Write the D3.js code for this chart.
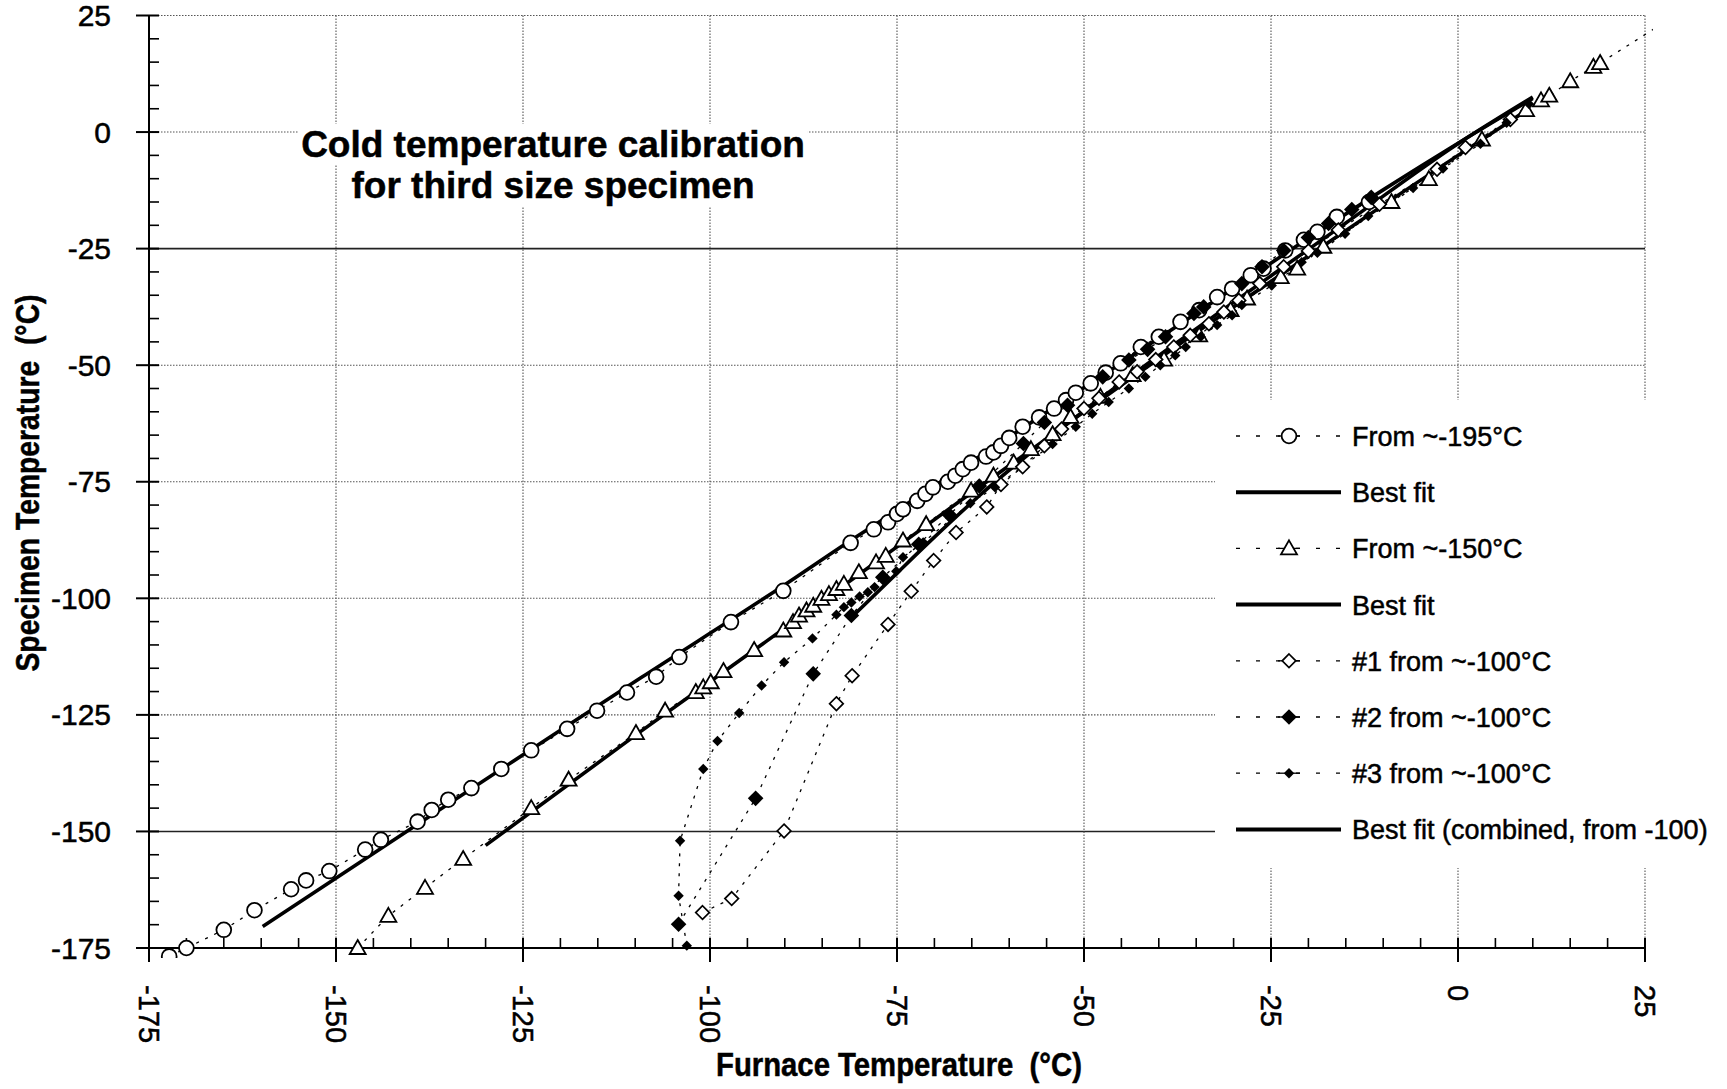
<!DOCTYPE html>
<html>
<head>
<meta charset="utf-8">
<script src="https://cdn.jsdelivr.net/npm/d3@7"></script>
<style>
  body { margin: 0; background: #fff; }
  text { font-family: "Liberation Sans", Arial, Helvetica, sans-serif; fill: #000; white-space: pre; }
  .heavy { stroke: #000; stroke-width: 0.5px; }
</style>
</head>
<body>
<svg id="chart" width="1727" height="1089"></svg>
<script>
// Axis ticks
const majorTicks = [-175, -150, -125, -100, -75, -50, -25, 0, 25];
const solidGrid = [-25, -150]; // these horizontal grid lines print solid

// Series: [furnace, specimen] in degC
const from195 = [
  [-172.3, -176.8], [-170, -175], [-165, -171.1], [-160.9, -166.9], [-156, -162.4], [-154, -160.5], [-150.9, -158.5],
  [-146.1, -153.9], [-144, -151.8], [-139.1, -147.9], [-137.2, -145.4], [-135, -143.2], [-131.9, -140.7],
  [-127.9, -136.6], [-123.9, -132.6], [-119.1, -128], [-115.1, -124.1], [-111.1, -120.2], [-107.2, -116.8],
  [-104.1, -112.6], [-97.2, -105.1], [-90.2, -98.4], [-81.2, -88.1], [-78.1, -85.2], [-76.2, -83.7],
  [-75, -81.9], [-74.2, -80.9], [-72.3, -79.1], [-71.2, -77.6], [-70.2, -76.2], [-68.2, -75],
  [-67.2, -73.7], [-66.2, -72.3], [-65.1, -70.9], [-63.1, -69.6], [-62.1, -68.7], [-61.1, -67.3],
  [-60, -65.6], [-58.2, -63.2], [-56, -61.2], [-54, -59.3], [-52.4, -57.5], [-51.1, -55.9],
  [-49.1, -53.9], [-47.1, -51.6], [-45.1, -49.6], [-42.4, -46.1], [-40, -43.9], [-37.1, -40.7],
  [-34.6, -38.2], [-32.2, -35.4], [-30.2, -33.6], [-27.7, -30.7], [-26, -29.3], [-23.1, -25.4],
  [-20.6, -23.1], [-18.8, -21.4], [-16.2, -18.2], [-11.9, -15]
];
const fit195 = [
  [-159.8, -170.4], [-140, -149.4], [-120, -128.3], [-109.3, -117.1], [-90.2, -97.3], [-81.2, -87.6],
  [-73.7, -79.8], [-60, -65.4], [-40, -44.2], [-20, -22.8], [-10, -12.4], [0, -2.4], [10, 7.2]
];
const from150 = [
  [-147.1, -175], [-143, -168.1], [-138.1, -162.1], [-133, -155.9], [-123.9, -145], [-118.9, -138.9],
  [-109.9, -128.9], [-106, -124.1], [-101.9, -120.1], [-100.9, -119.1], [-99.9, -118], [-98.2, -115.6],
  [-94.1, -111.1], [-90.2, -106.9], [-88.9, -105.1], [-88.1, -103.7], [-87.1, -102.6], [-86.2, -101.6],
  [-85.1, -100.1], [-84.1, -99.1], [-83.1, -98], [-82.1, -96.9], [-80.1, -94.4], [-77.8, -92.3],
  [-76.5, -90.9], [-74.2, -87.6], [-71.1, -84.1], [-65.1, -76.9], [-62.1, -73.7], [-59.4, -70.9],
  [-57.1, -68], [-54.2, -64.8], [-51.8, -61.1], [-47.8, -56.8], [-43.5, -52.1], [-39.3, -48.8],
  [-34.6, -43.6], [-30.4, -38.2], [-28.2, -35.7], [-23.7, -31.1], [-21.5, -29.3], [-18, -24.6],
  [-8.9, -15], [-3.9, -10.1], [3.2, -1.6], [9.1, 4.7], [11.1, 6.8], [12.2, 7.8], [15, 10.9],
  [18.1, 14], [19, 14.8], [30, 26]
];
const fit150 = [
  [-130, -153], [-109.3, -128.6], [-94.1, -111.1], [-80, -94.8], [-65.1, -77.4],
  [-50, -60], [-35, -43], [-20, -26.6], [-9, -14.6], [0, -5], [9.5, 5]
];
const run1 = [
  [-101, -167.4], [-97.1, -164.4], [-90.1, -149.9], [-83.1, -122.6], [-81, -116.6], [-76.2, -105.6],
  [-73.1, -98.5], [-70.1, -91.9], [-67.1, -85.9], [-63, -80.4], [-61.1, -75.6], [-58.2, -71.8],
  [-55.3, -67.3], [-53, -63.7], [-50, -59.3], [-48, -57.1], [-45.3, -53.6], [-42.9, -51.4],
  [-40.4, -48.8], [-38, -46.1], [-35.8, -43.6], [-33.3, -41.1], [-31.3, -38.6], [-29.3, -36.1],
  [-26.5, -32.5], [-23.3, -28.9], [-20, -25.5], [-16, -21], [-10.5, -15.5], [-2.8, -8], [1, -3.3], [7, 2.7]
];
const run2 = [
  [-104.2, -169.9], [-93.9, -142.9], [-86.2, -116.2], [-81.1, -103.7], [-76.9, -95.5], [-72.1, -88.4],
  [-68, -82.1], [-64, -75.9], [-58.1, -66.8], [-55.3, -62.3], [-52.2, -58.6], [-47.5, -52.5],
  [-44, -48.9], [-41.5, -46.6], [-39.1, -43.9], [-35.3, -38.9], [-34, -37.5], [-28.9, -32.5],
  [-26.2, -28.9], [-23.3, -25.4], [-20, -22.6], [-17.3, -19.6], [-14.2, -16.6], [-11.6, -14]
];
const run3 = [
  [-103.1, -174.5], [-104.2, -163.8], [-104, -152], [-100.9, -136.6], [-99, -130.6], [-96.1, -124.6],
  [-93.1, -118.7], [-90.1, -113.7], [-86.3, -108.6], [-83.1, -103.5], [-82.1, -101.9], [-81.1, -100.9],
  [-80, -99.6], [-78.9, -98.7], [-78, -97.6], [-77.1, -95.4], [-75.1, -94.2], [-74.2, -91.2],
  [-71.5, -88], [-65.2, -79.6], [-61.9, -76.2], [-54.2, -66.9], [-51.1, -63.2], [-48.9, -60.4],
  [-46.7, -57.9], [-44, -55], [-41.8, -52.5], [-39.8, -50], [-37.8, -47.9], [-36.4, -46.1],
  [-34.4, -43.9], [-32.2, -41.4], [-30.2, -39.3], [-28.9, -37.1], [-24.9, -32.9], [-20.9, -27.9],
  [-18.8, -25.9], [-15.1, -21.8], [-12, -18], [-6, -12], [-2, -7.8], [3, -2.5], [6.5, 2], [9.5, 6]
];
const fitCombined = [
  [-81.1, -104.1], [-75, -94.6], [-70.6, -87.8], [-64, -78], [-55, -66], [-45, -53.8],
  [-30, -36.5], [-15, -19.5], [0, -2.5], [10, 7.5]
];

const legendLabels = [
  "From ~-195°C", "Best fit", "From ~-150°C", "Best fit",
  "#1 from ~-100°C", "#2 from ~-100°C", "#3 from ~-100°C", "Best fit (combined, from -100)"
];
const legendKinds = ["circle", "fit", "triangle", "fit", "diamondOpen", "diamondBig", "diamondSmall", "fit"];

const svg = d3.select("#chart");

const x = d3.scaleLinear().domain([-175, 25]).range([149, 1645]);
const y = d3.scaleLinear().domain([-175, 25]).range([948, 15.5]);

// Grid
const grid = svg.append("g");
grid.selectAll("line.h")
  .data(majorTicks.filter(d => d > -175))
  .enter().append("line")
    .attr("x1", x(-175)).attr("x2", x(25))
    .attr("y1", d => y(d)).attr("y2", d => y(d))
    .attr("stroke", d => solidGrid.includes(d) ? "#222" : "#555")
    .attr("stroke-width", d => solidGrid.includes(d) ? 1.6 : 1.1)
    .attr("stroke-dasharray", d => solidGrid.includes(d) ? null : "1.5,1.5");
grid.selectAll("line.v")
  .data(majorTicks.filter(d => d > -175))
  .enter().append("line")
    .attr("x1", d => x(d)).attr("x2", d => x(d))
    .attr("y1", y(25)).attr("y2", y(-175))
    .attr("stroke", "#555")
    .attr("stroke-width", 1.1)
    .attr("stroke-dasharray", "1.5,1.5");

// Legend area blanks out the grid behind it
svg.append("rect")
  .attr("x", 1215).attr("y", 400).attr("width", 512).attr("height", 468)
  .attr("fill", "#fff");

// Title (each line gets a white box behind it)
const titleLines = ["Cold temperature calibration", "for third size specimen"];
const titleG = svg.append("g");
titleLines.forEach((t, i) => {
  const txt = titleG.append("text")
    .attr("x", 553).attr("y", 157 + i * 41)
    .attr("text-anchor", "middle")
    .attr("font-size", 37)
    .attr("font-weight", "bold")
    .attr("class", "heavy")
    .text(t);
  const bb = txt.node().getBBox();
  titleG.insert("rect", "text")
    .attr("x", bb.x - 3).attr("y", bb.y)
    .attr("width", bb.width + 6).attr("height", bb.height)
    .attr("fill", "#fff");
});

// Axes
const minor = d3.range(-175, 26, 5).filter(d => !majorTicks.includes(d));
const axes = svg.append("g").attr("stroke", "#000");
axes.append("line")
  .attr("x1", x(-175)).attr("x2", x(-175))
  .attr("y1", y(25)).attr("y2", y(-175))
  .attr("stroke-width", 2);
axes.append("line")
  .attr("x1", x(-175)).attr("x2", x(25))
  .attr("y1", y(-175)).attr("y2", y(-175))
  .attr("stroke-width", 2);
axes.selectAll("line.ym").data(minor).enter().append("line")
  .attr("x1", x(-175)).attr("x2", x(-175) + 10)
  .attr("y1", d => y(d)).attr("y2", d => y(d))
  .attr("stroke-width", 1.6);
axes.selectAll("line.yM").data(majorTicks).enter().append("line")
  .attr("x1", x(-175) - 13).attr("x2", x(-175) + 10)
  .attr("y1", d => y(d)).attr("y2", d => y(d))
  .attr("stroke-width", 2);
axes.selectAll("line.xm").data(minor).enter().append("line")
  .attr("x1", d => x(d)).attr("x2", d => x(d))
  .attr("y1", y(-175)).attr("y2", y(-175) - 10)
  .attr("stroke-width", 1.6);
axes.selectAll("line.xM").data(majorTicks).enter().append("line")
  .attr("x1", d => x(d)).attr("x2", d => x(d))
  .attr("y1", y(-175) + 14).attr("y2", y(-175) - 10)
  .attr("stroke-width", 2);

svg.append("g").selectAll("text")
  .data(majorTicks).enter().append("text")
    .attr("x", 111).attr("y", d => y(d))
    .attr("text-anchor", "end")
    .attr("dominant-baseline", "central")
    .attr("font-size", 30)
    .attr("class", "heavy")
    .text(d => String(d));

svg.append("g").selectAll("text")
  .data(majorTicks).enter().append("text")
    .attr("transform", d => `translate(${x(d)},985) rotate(90)`)
    .attr("text-anchor", "start")
    .attr("dominant-baseline", "central")
    .attr("font-size", 29)
    .attr("class", "heavy")
    .text(d => String(d));

// Axis titles
svg.append("text")
  .attr("transform", "translate(39,483) rotate(-90)")
  .attr("text-anchor", "middle")
  .attr("font-size", 33).attr("font-weight", "bold")
  .attr("textLength", 377).attr("lengthAdjust", "spacingAndGlyphs")
  .attr("class", "heavy")
  .text("Specimen Temperature  (°C)");
svg.append("text")
  .attr("x", 899).attr("y", 1076)
  .attr("text-anchor", "middle")
  .attr("font-size", 33).attr("font-weight", "bold")
  .attr("textLength", 366).attr("lengthAdjust", "spacingAndGlyphs")
  .attr("class", "heavy")
  .text("Furnace Temperature  (°C)");

// Markers
function marker(g, kind, cx, cy) {
  if (kind === "circle") {
    g.append("circle").attr("cx", cx).attr("cy", cy).attr("r", 7.4)
      .attr("fill", "#fff").attr("stroke", "#000").attr("stroke-width", 1.8);
  } else if (kind === "triangle") {
    g.append("path").attr("transform", `translate(${cx},${cy})`)
      .attr("d", "M0,-8L8,6L-8,6Z")
      .attr("fill", "#fff").attr("stroke", "#000").attr("stroke-width", 1.8);
  } else if (kind === "diamondOpen") {
    g.append("path").attr("transform", `translate(${cx},${cy})`)
      .attr("d", "M0,-6.8L6.8,0L0,6.8L-6.8,0Z")
      .attr("fill", "#fff").attr("stroke", "#000").attr("stroke-width", 1.7);
  } else if (kind === "diamondBig") {
    g.append("path").attr("transform", `translate(${cx},${cy})`)
      .attr("d", "M0,-7.8L7.8,0L0,7.8L-7.8,0Z")
      .attr("fill", "#000");
  } else if (kind === "diamondSmall") {
    g.append("path").attr("transform", `translate(${cx},${cy})`)
      .attr("d", "M0,-5.2L5.2,0L0,5.2L-5.2,0Z")
      .attr("fill", "#000");
  }
}

svg.append("defs").append("clipPath").attr("id", "plot")
  .append("rect").attr("x", x(-175)).attr("y", y(25) - 10)
  .attr("width", x(25) - x(-175) + 8).attr("height", y(-175) - y(25) + 20);

const line = d3.line().x(d => x(d[0])).y(d => y(d[1]));
const smooth = d3.line().x(d => x(d[0])).y(d => y(d[1])).curve(d3.curveMonotoneX);

const plot = svg.append("g").attr("clip-path", "url(#plot)");

const series = [
  { data: from195, kind: "circle" },
  { data: from150, kind: "triangle" },
  { data: run1, kind: "diamondOpen" },
  { data: run2, kind: "diamondBig" },
  { data: run3, kind: "diamondSmall" }
];
const fits = [fit195, fit150, fitCombined];

series.forEach(s => {
  plot.append("path").datum(s.data)
    .attr("d", line)
    .attr("fill", "none").attr("stroke", "#000")
    .attr("stroke-width", 1.3).attr("stroke-dasharray", "3,7");
});
fits.forEach(f => {
  plot.append("path").datum(f)
    .attr("d", smooth)
    .attr("fill", "none").attr("stroke", "#000")
    .attr("stroke-width", 3.6).attr("stroke-linecap", "butt");
});
series.forEach(s => {
  const g = plot.append("g");
  s.data.forEach(d => marker(g, s.kind, x(d[0]), y(d[1])));
});

// Legend
const legend = svg.append("g");
legendLabels.forEach((label, i) => {
  const cy = 436 + i * 56.2;
  const kind = legendKinds[i];
  if (kind === "fit") {
    legend.append("line").attr("x1", 1236).attr("x2", 1341).attr("y1", cy).attr("y2", cy)
      .attr("stroke", "#000").attr("stroke-width", 4);
  } else {
    legend.append("line").attr("x1", 1236).attr("x2", 1341).attr("y1", cy).attr("y2", cy)
      .attr("stroke", "#000").attr("stroke-width", 1.3).attr("stroke-dasharray", "4,16");
    legend.append("line").attr("x1", 1278).attr("x2", 1300).attr("y1", cy).attr("y2", cy)
      .attr("stroke", "#000").attr("stroke-width", 1.3);
    marker(legend, kind, 1289, cy);
  }
  legend.append("text")
    .attr("x", 1352).attr("y", cy + 10)
    .attr("font-size", 27)
    .attr("class", "heavy")
    .text(label);
});
</script>
</body>
</html>
